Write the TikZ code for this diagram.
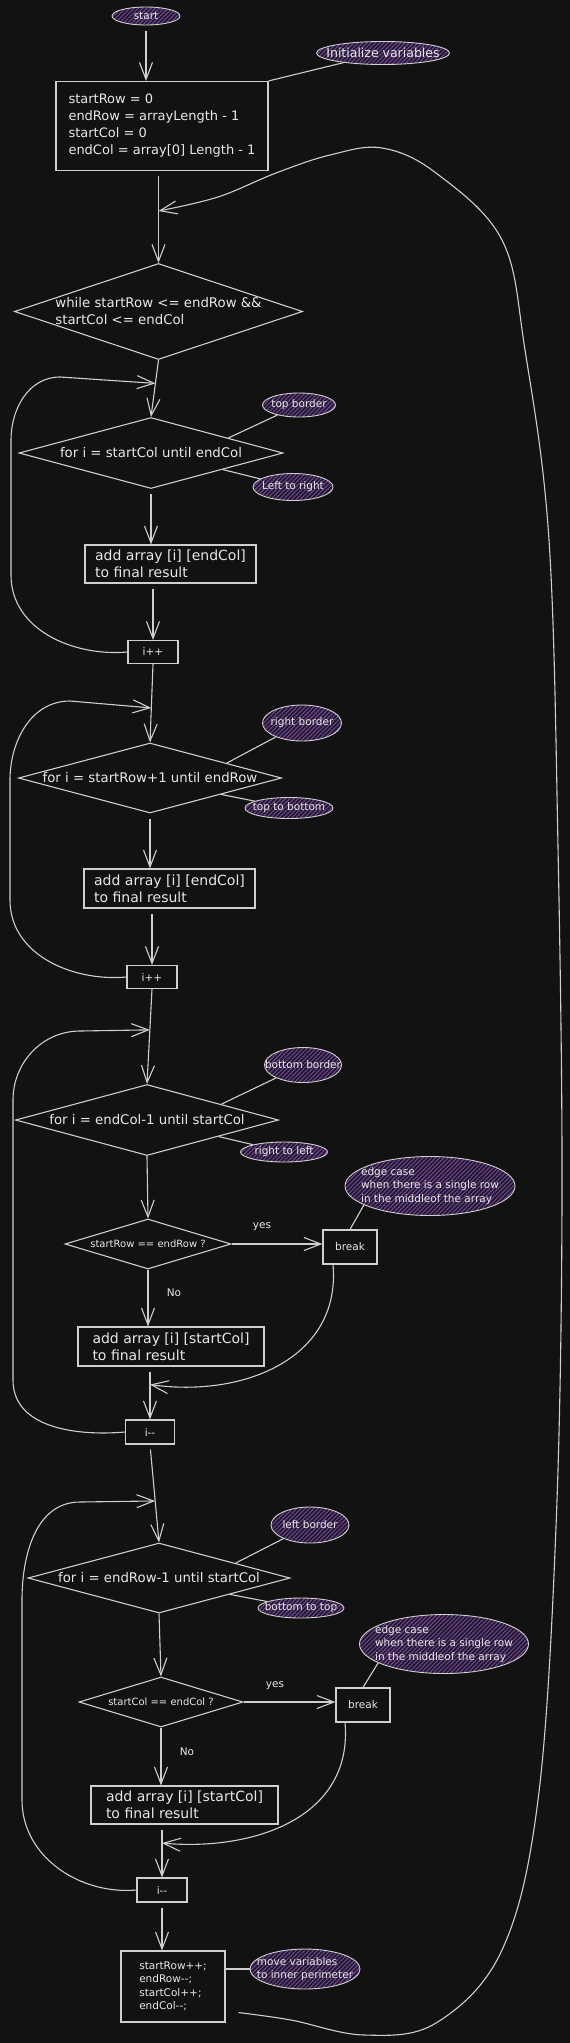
\documentclass[tikz,border=0pt]{standalone}
\usepackage{fontspec}
\setmainfont{DejaVu Sans}
\usetikzlibrary{shapes.geometric,arrows.meta,patterns.meta,calc}
\definecolor{bg}{HTML}{121212}
\definecolor{linec}{HTML}{CFCFCF}
\definecolor{txt}{HTML}{E8E8E8}
\definecolor{purp}{HTML}{6E4592}
\definecolor{purpdk}{HTML}{1F1727}
\begin{document}
\begin{tikzpicture}[x=1pt,y=-1pt,
  every node/.style={text=txt},
  mainfont/.style={font=\fontsize{14}{17}\selectfont},
  diafont/.style={font=\fontsize{13.3}{17}\selectfont},
  smallfont/.style={font=\fontsize{10.5}{13.5}\selectfont},
  sdfont/.style={font=\fontsize{10}{12}\selectfont},
  procbox/.style={draw=linec, line width=1.1pt, rectangle, inner xsep=4pt, inner ysep=0pt, align=left, mainfont},
  decision/.style={draw=linec, line width=1.1pt, diamond, inner sep=0pt, align=left, diafont},
  note/.style={draw=linec, line width=0.9pt, ellipse, inner xsep=-40pt, inner ysep=-14pt, align=left, smallfont,
    preaction={fill=purpdk}, pattern={Lines[angle=45,distance=3pt,line width=1.1pt]}, pattern color=purp},
  conn/.style={draw=linec, line width=1.1pt},
  arr/.style={conn, -{Straight Barb[length=17pt,width=13pt,line width=1.1pt]}},
  gap/.style={shorten <=5pt},
  lbl/.style={smallfont, inner sep=1pt},
]
\fill[bg] (0,0) rectangle (570,2043);
\useasboundingbox (0,0) rectangle (570,2043);

% ---------- nodes ----------
\node[note, minimum width=68pt, minimum height=18pt] (start) at (146,16) {start};
\node[note, minimum width=133pt, minimum height=23pt, font=\fontsize{12.5}{15}\selectfont] (initv) at (383,53) {Initialize variables};
\node[procbox, font=\fontsize{13}{17}\selectfont, minimum width=212pt, minimum height=89pt] (init) at (162,126)
  {startRow = 0\\endRow = arrayLength - 1\\startCol = 0\\endCol = array[0] Length - 1};

\node[decision, shape aspect=3, minimum width=287pt, minimum height=95pt] (while) at (158.5,311.5)
  {while startRow <= endRow \&\&\\startCol <= endCol};

\node[decision, shape aspect=3.7, minimum width=264pt, minimum height=71pt] (for1) at (151,453) {for i = startCol until endCol};
\node[note, minimum width=73pt, minimum height=24pt] (topb) at (299,405) {top border};
\node[note, minimum width=80pt, minimum height=27pt] (ltr) at (293,487) {Left to right};
\node[procbox, minimum width=171pt, minimum height=38pt] (b1) at (170.5,564) {add array [i] [endCol]\\to final result};
\node[procbox, smallfont, minimum width=50pt, minimum height=23pt] (i1) at (153,652) {i++};

\node[decision, shape aspect=3.7, minimum width=263pt, minimum height=70pt] (for2) at (150,778) {for i = startRow+1 until endRow};
\node[note, minimum width=79pt, minimum height=36pt] (rightb) at (302,723) {right border};
\node[note, minimum width=88pt, minimum height=21pt] (ttb) at (289,808) {top to bottom};
\node[procbox, minimum width=171pt, minimum height=39pt] (b2) at (169.5,888.5) {add array [i] [endCol]\\to final result};
\node[procbox, smallfont, minimum width=50pt, minimum height=23pt] (i2) at (152,977) {i++};

\node[decision, shape aspect=3.7, minimum width=263pt, minimum height=71pt] (for3) at (147,1120) {for i = endCol-1 until startCol};
\node[note, minimum width=77pt, minimum height=35pt] (bottomb) at (303,1065) {bottom border};
\node[note, minimum width=87pt, minimum height=20pt] (rtl) at (284,1152) {right to left};
\node[decision, sdfont, shape aspect=3.3, minimum width=166pt, minimum height=50pt] (sd1) at (148,1244) {startRow == endRow ?};
\node[procbox, smallfont, minimum width=54pt, minimum height=34pt] (break1) at (350,1247) {break};
\node[note, minimum width=170pt, minimum height=59pt] (edge1) at (430,1186)
  {edge case\\when there is a single row\\in the middleof the array};
\node[lbl] (yes1) at (262,1227) {yes};
\node[lbl] (no1) at (174,1293) {No};
\node[procbox, minimum width=186pt, minimum height=39pt] (b3) at (171,1346.5) {add array [i] [startCol]\\to final result};
\node[procbox, smallfont, minimum width=49pt, minimum height=24pt] (i3) at (150,1432) {i-{}-};

\node[decision, shape aspect=3.7, minimum width=262pt, minimum height=70pt] (for4) at (159,1578) {for i = endRow-1 until startCol};
\node[note, minimum width=78pt, minimum height=36pt] (leftb) at (310,1525) {left border};
\node[note, minimum width=86pt, minimum height=20pt] (btt) at (301,1608) {bottom to top};
\node[decision, sdfont, shape aspect=3.3, minimum width=164pt, minimum height=50pt] (sd2) at (161,1702) {startCol == endCol ?};
\node[procbox, smallfont, minimum width=54pt, minimum height=34pt] (break2) at (363,1705) {break};
\node[note, minimum width=169pt, minimum height=59pt] (edge2) at (444,1644)
  {edge case\\when there is a single row\\in the middleof the array};
\node[lbl] (yes2) at (275,1686) {yes};
\node[lbl] (no2) at (187,1752) {No};
\node[procbox, minimum width=187pt, minimum height=38pt] (b4) at (184.5,1805) {add array [i] [startCol]\\to final result};
\node[procbox, smallfont, minimum width=50pt, minimum height=24pt] (i4) at (162,1890) {i-{}-};

\node[procbox, smallfont, minimum width=104pt, minimum height=71pt] (final) at (173,1986.5)
  {startRow++;\\endRow-{}-;\\startCol++;\\endCol-{}-;};
\node[note, minimum width=110pt, minimum height=40pt] (mv) at (305,1969) {move variables\\to inner perimeter};

% ---------- merge points ----------
\coordinate (m0) at (while.north |- 0,211);
\coordinate (m1) at ($(while.south)!0.41!(for1.north)$);
\coordinate (m2) at ($(i1.south)!0.56!(for2.north)$);
\coordinate (m3) at ($(i2.south)!0.43!(for3.north)$);
\coordinate (m4) at ($(i3.north |- b3.south)!0.34!(i3.north)$);
\coordinate (m5) at ($(i3.south)!0.576!(for4.north)$);
\coordinate (m6) at ($(i4.north |- b4.south)!0.35!(i4.north)$);
\coordinate (L0) at ($(final.south east)+(13,-10)$);
\coordinate (bk1) at ($(break1.south)+(-17,0)$);
\coordinate (bk2) at ($(break2.south)+(-18,0)$);

% ---------- connectors ----------
\draw[arr, gap] (start) -- (start.south |- init.north);
\draw[conn] (init.north east) -- (initv);
\draw[arr, gap] (while.north |- init.south) -- (while.north);
\draw[arr] plot[smooth, tension=0.6] coordinates {(L0) (291,2020) (364,2035) (436,2023) (502,1950) (538,1800) (556,1527) (562,1200) (558,847) (549,540) (525,350) (502,240) (436,173) (382,148) (330,155) (276,173) (218,197) (m0)};

\draw[arr] (while.south) -- (for1.north);
\draw[arr] (i1.west) to[out=185,in=-90] (11,575) -- (11,440) to[out=90,in=180] (60,377) -- (m1);
\draw[conn] (for1.11) -- (topb);
\draw[conn] (for1.-13) -- (ltr);
\draw[arr, gap] (for1.south) -- (for1.south |- b1.north);
\draw[arr, gap] (i1.north |- b1.south) -- (i1.north);

\draw[arr] (i1.south) -- (for2.north);
\draw[arr] (i2.west) to[out=185,in=-90] (10,900) -- (10,780) to[out=90,in=180] (70,701) -- (m2);
\draw[conn] (for2.11) -- (rightb);
\draw[conn] (for2.-13) -- (ttb);
\draw[arr, gap] (for2.south) -- (for2.south |- b2.north);
\draw[arr, gap] (i2.north |- b2.south) -- (i2.north);

\draw[arr] (i2.south) -- (for3.north);
\draw[arr] (i3.west) to[out=185,in=-90] (13,1380) -- (13,1100) to[out=90,in=180] (80,1031) -- (m3);
\draw[conn] (for3.12) -- (bottomb);
\draw[conn] (for3.-13) -- (rtl);
\draw[arr] (for3.south) -- (sd1.north);
\draw[arr] (sd1.east) -- (sd1.east -| break1.west);
\draw[conn] (break1.north) -- (edge1.-164);
\draw[arr] (sd1.south) -- (sd1.south |- b3.north);
\draw[arr] (bk1) to[out=-85,in=-8,looseness=1.1] (m4);
\draw[arr, gap] (i3.north |- b3.south) -- (i3.north);

\draw[arr, gap] (i3.south) -- (for4.north);
\draw[arr] (i4.west) to[out=185,in=-90] (22,1800) -- (22,1600) to[out=90,in=180] (80,1502) -- (m5);
\draw[conn] (for4.11) -- (leftb);
\draw[conn] (for4.-13) -- (btt);
\draw[arr] (for4.south) -- (sd2.north);
\draw[arr] (sd2.east) -- (sd2.east -| break2.west);
\draw[conn] (break2.north) -- (edge2.-164);
\draw[arr] (sd2.south) -- (sd2.south |- b4.north);
\draw[arr] (bk2) to[out=-85,in=-5,looseness=1.1] (m6);
\draw[arr, gap] (i4.north |- b4.south) -- (i4.north);
\draw[arr, gap] (i4.south) -- (i4.south |- final.north);
\draw[conn] (final.east |- mv.west) -- (mv.west);
\end{tikzpicture}
\end{document}
